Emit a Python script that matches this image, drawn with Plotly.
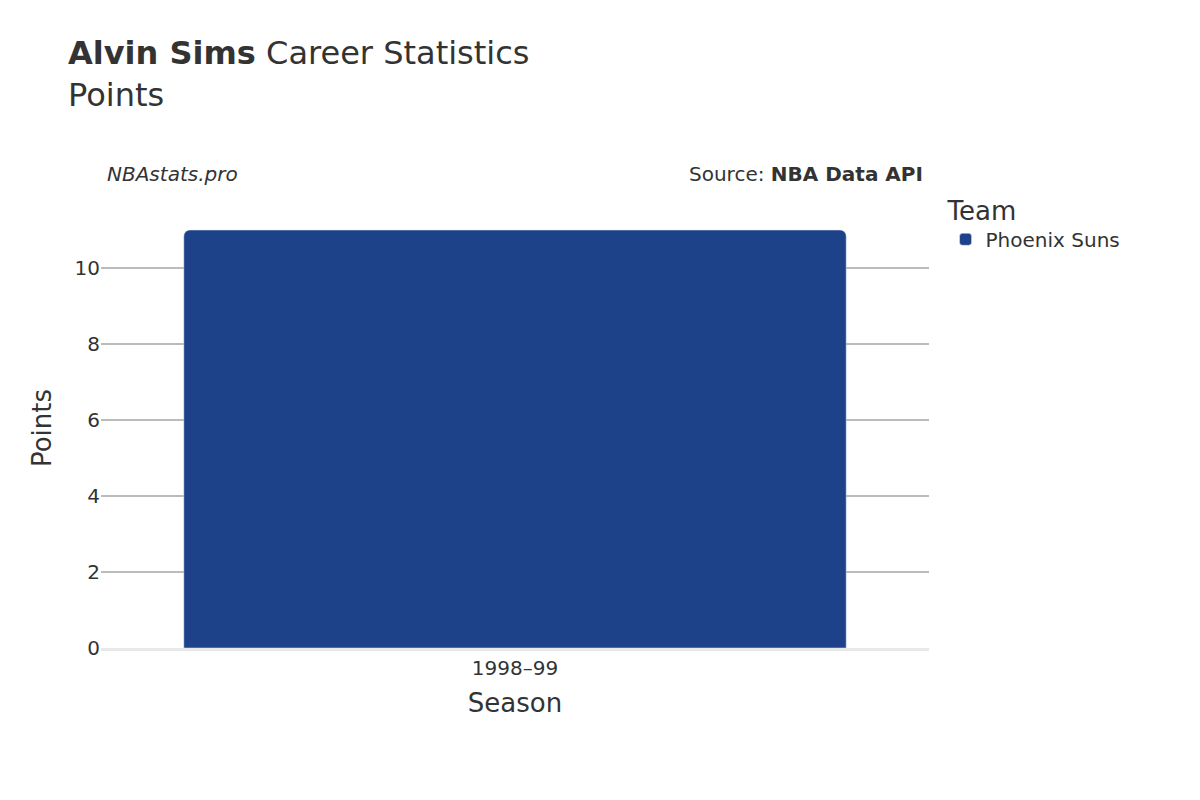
import plotly.graph_objects as go

seasons = ["1998–99"]
points = [11]
team = "Phoenix Suns"

fig = go.Figure()
fig.add_trace(go.Bar(x=seasons, y=points, name=team, marker_color="#1d428a",
                     width=0.8, showlegend=True))
fig.update_layout(
    width=1200, height=800,
    font=dict(family="DejaVu Sans", color="#333333", size=20),
    plot_bgcolor="white", paper_bgcolor="white",
    margin=dict(l=93, r=279, t=200, b=160),
    barcornerradius=6,
    title=dict(text="<b>Alvin Sims</b> Career Statistics<br>Points", x=0.05, xanchor="left",
               y=0.93, yanchor="top", font=dict(size=32)),
    xaxis=dict(title=dict(text="Season", font=dict(size=26)), showgrid=False,
               showline=True, linecolor="#e8e8e8", linewidth=3, tickfont=dict(size=20)),
    yaxis=dict(title=dict(text="Points", font=dict(size=26)), gridcolor="#bbbbbb",
               gridwidth=1.5, zeroline=False, dtick=2, tickfont=dict(size=20)),
    legend=dict(title=dict(text="Team", font=dict(size=26)), x=1.02, y=1.05,
                xanchor="left", yanchor="top", font=dict(size=20)),
    annotations=[
        dict(text="<i>NBAstats.pro</i>", xref="paper", yref="paper", x=0.005, y=1.045,
             xanchor="left", yanchor="bottom", showarrow=False, font=dict(size=20)),
        dict(text="Source: <b>NBA Data API</b>", xref="paper", yref="paper", x=0.995, y=1.045,
             xanchor="right", yanchor="bottom", showarrow=False, font=dict(size=20)),
    ],
)
fig.write_html("out.html")
